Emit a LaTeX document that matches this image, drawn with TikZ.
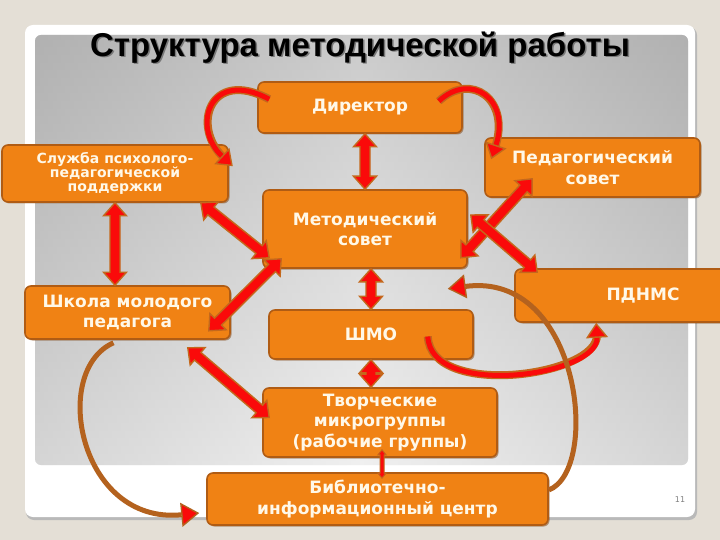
\documentclass[tikz,border=0pt]{standalone}
\usepackage{fontspec}
\setmainfont{DejaVu Sans}
\newfontfamily\titlefont{Liberation Sans}
\usetikzlibrary{calc,arrows.meta,shadows}

\definecolor{orng}{RGB}{240,130,20}
\definecolor{brwn}{RGB}{176,92,20}
\definecolor{cream}{RGB}{255,248,232}
\definecolor{bgbeige}{RGB}{228,223,214}
\definecolor{redarr}{RGB}{250,10,10}
\definecolor{arrline}{RGB}{196,104,28}
\definecolor{curvbrown}{RGB}{180,98,30}
\definecolor{titleshadow}{RGB}{120,120,120}

% block arrow with two heads
\newcommand\bahead{13pt}
\newcommand\bawid{11.5pt}
\newcommand\bashaft{5pt}
\newcommand\blockarr[3][]{%
  \path (#2) coordinate (ba-s) (#3) coordinate (ba-e);
  \path ($(ba-s)!\bahead!(ba-e)$) coordinate (ba-a) ($(ba-e)!\bahead!(ba-s)$) coordinate (ba-b);
  \draw[dblarrow,#1] (ba-s) -- ($(ba-a)!\bawid!90:(ba-e)$) -- ($(ba-a)!\bashaft!90:(ba-e)$)
    -- ($(ba-b)!\bashaft!-90:(ba-s)$) -- ($(ba-b)!\bawid!-90:(ba-s)$) -- (ba-e)
    -- ($(ba-b)!\bawid!90:(ba-s)$) -- ($(ba-b)!\bashaft!90:(ba-s)$)
    -- ($(ba-a)!\bashaft!-90:(ba-e)$) -- ($(ba-a)!\bawid!-90:(ba-e)$) -- cycle;}
% curved red arrow
\newcommand\bentarr[1]{\draw[bentback] #1; \draw[bentfront] #1;}
\newcommand\shadowed[1]{\makebox[0pt][l]{\hspace{1.5pt}\raisebox{-1.5pt}{\textcolor{titleshadow}{#1}}}#1}

\begin{document}
\begin{tikzpicture}[
        x=1pt, y=-1pt,
        box/.style={rectangle, rounded corners=6pt, fill=orng, draw=brwn, line width=1.6pt,
            text=cream, font=\bfseries\fontsize{17}{20.5}\selectfont, align=center, inner sep=2pt,
            drop shadow={shadow xshift=1.5pt, shadow yshift=-1.5pt, fill=brwn!70!black, opacity=.5}},
        dblarrow/.style={fill=redarr, draw=arrline, line width=1.4pt, line join=miter},
        bentback/.style={draw=arrline, line width=8pt, shorten >=12pt},
        bentfront/.style={draw=redarr, line width=5pt,
            -{Triangle[width=22pt,length=15pt,fill=redarr,color=arrline,line width=1.4pt]}},
        loopline/.style={draw=curvbrown, line width=5pt,
            -{Triangle[width=24pt,length=18pt,fill=redarr,color=curvbrown,line width=1.4pt]}}
    ]
    \useasboundingbox (0,0) rectangle (720,540);
    % slide background
    \fill[bgbeige] (0,0) rectangle (720,540);
    \fill[gray!55, rounded corners=8pt] (26,27) rectangle (697,520);
    \fill[white, rounded corners=8pt] (25,25) rectangle (695,517);
    \shade[rounded corners=6pt, top color=gray!62, bottom color=gray!18] (35,35) rectangle (688,465);
    \shade[rounded corners=6pt, left color=gray!60, right color=gray!60, middle color=white, opacity=.35]
        (35,35) rectangle (688,465);

    \node[font=\titlefont\bfseries\fontsize{33}{33}\selectfont] (title) at (360,48)
        {\shadowed{Структура методической работы}};
    \node[text=gray, font=\fontsize{8}{8}\selectfont] (pagenum) at (680,500) {11};

    \node[box, minimum width=204pt, minimum height=51pt] (director) at (360,107.5) {Директор};
    \node[box, minimum width=226pt, minimum height=57pt, font=\bfseries\fontsize{14}{14}\selectfont]
        (sluzhba) at (115,173.5) {Служба психолого-\\педагогической\\поддержки};
    \node[box, minimum width=215pt, minimum height=59pt] (pedsovet) at (592.5,167.5) {Педагогический\\совет};
    \node[box, minimum width=204pt, minimum height=78pt] (metsovet) at (365,229) {Методический\\совет};
    \node[box, minimum width=205pt, minimum height=53pt] (shkola) at (127.5,312.5) {Школа молодого\\педагога};
    \node[box, minimum width=204pt, minimum height=49pt] (shmo) at (371,334.5) {ШМО};
    \node[box, minimum width=256pt, minimum height=53pt] (pdnms) at (643,295.5) {ПДНМС};
    \node[box, minimum width=234pt, minimum height=69pt] (tvorch) at (380,422.5)
        {Творческие\\микрогруппы\\(рабочие группы)};
    \node[box, minimum width=341pt, minimum height=52pt] (biblio) at (377.5,499)
        {Библиотечно-\\информационный центр};

    % straight links
    \blockarr{director.south -| metsovet.north}{metsovet.north}
    \blockarr{sluzhba.south}{sluzhba.south |- shkola.north}
    \blockarr{$(sluzhba.south east)+(-28,0)$}{$(metsovet.south west)+(7,-11)$}
    \blockarr{$(pedsovet.south west)+(48,-19)$}{$(metsovet.south east)+(-7,-11)$}
    \blockarr{$(metsovet.east)+(3,-14)$}{$(pdnms.north west)+(23,4)$}
    \blockarr{$(shkola.south east)+(-22,-9)$}{$(metsovet.south west)+(19,-10)$}
    \blockarr{$(shkola.south east)+(-43,8)$}{$(tvorch.west)+(7,-5)$}
    \blockarr{shmo.north |- metsovet.south}{shmo.north}
    \blockarr{shmo.south}{shmo.south |- tvorch.north}
    {\renewcommand\bahead{5pt}\renewcommand\bawid{4pt}\renewcommand\bashaft{2pt}
     \blockarr[line width=1pt]{$(tvorch.south)+(2,-8)$}{$(tvorch.south |- biblio.north)+(2,6)$}}

    % curved links
    \bentarr{($(director.north west)+(12,18)$) .. controls +(-60,-32) and +(-42,-39) .. ($(sluzhba.north east)+(4,22)$)}
    \bentarr{($(director.north east)+(-24,20)$) .. controls +(32,-30) and +(20,-60) .. ($(pedsovet.north west)+(7,22)$)}
    \bentarr{($(shmo.east)+(-46,2)$) .. controls +(3,63) and +(3,53) .. ($(pdnms.south west)+(82,0)$)}
    \draw[loopline] ($(biblio.east)+(0,-9)$) .. controls +(52,-20) and +(133,-18) .. ($(metsovet.south east)+(-20,20)$);
    \draw[loopline] ($(shkola.south)+(-14,3)$) .. controls +(-63.5,28) and +(-120,12) .. ($(biblio.west)+(-7,14)$);
\end{tikzpicture}
\end{document}
